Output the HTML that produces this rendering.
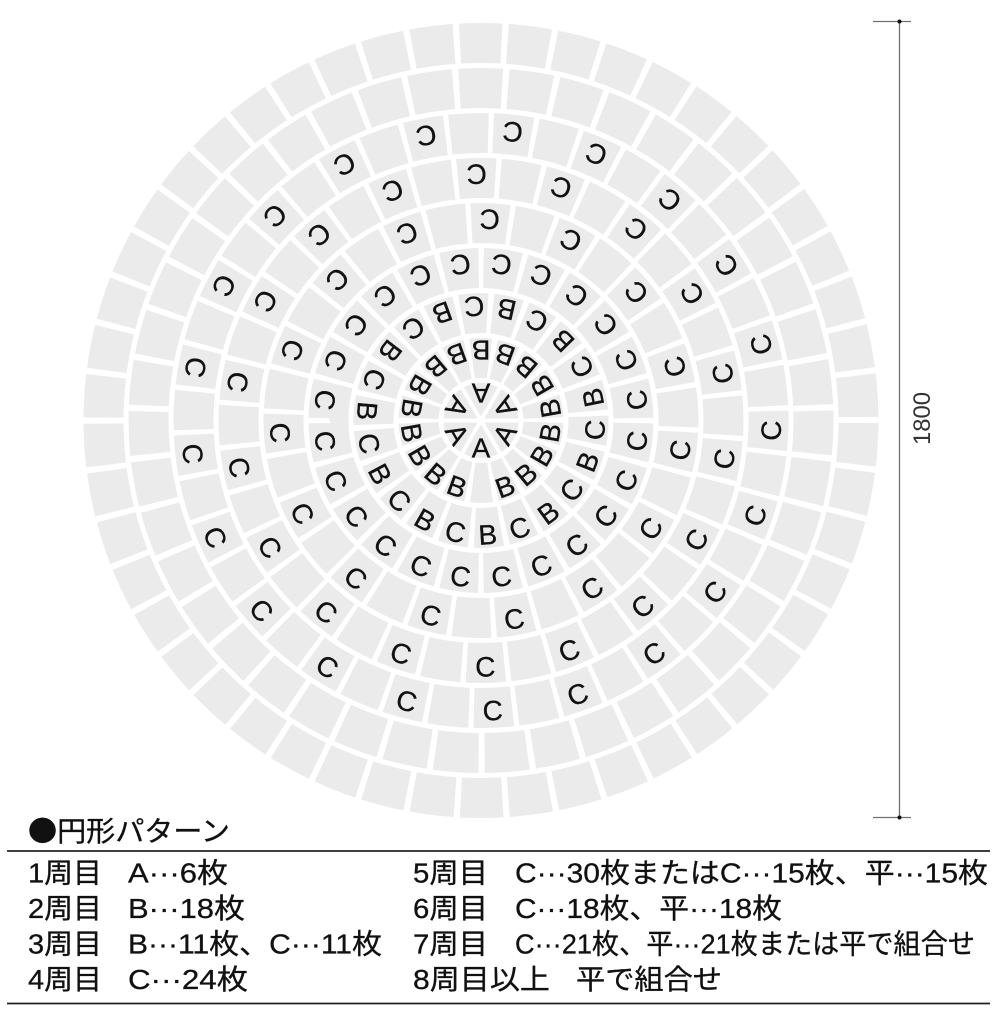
<!DOCTYPE html>
<html><head><meta charset="utf-8"><style>
html,body{margin:0;padding:0;background:#fff;}
svg{display:block;}
</style></head><body>
<svg width="1000" height="1014" viewBox="0 0 1000 1014" xmlns="http://www.w3.org/2000/svg">
<rect width="1000" height="1014" fill="#fff"/>
<!-- tile rings -->
<circle cx="481" cy="420.5" r="37.5" fill="#ebebeb"/>
<g stroke="#fff" stroke-width="4">
<line x1="462.25" y1="452.98" x2="499.75" y2="388.02"/>
<line x1="443.5" y1="420.5" x2="518.5" y2="420.5"/>
<line x1="462.25" y1="388.02" x2="499.75" y2="452.98"/>
</g>
<g fill="none" stroke="#ebebeb" stroke-width="40">
<circle cx="481" cy="420.5" r="62.5" pathLength="1800" stroke-dasharray="79.37 20.63" transform="rotate(102.06 481 420.5)"/>
<circle cx="481" cy="420.5" r="107.5" pathLength="2200" stroke-dasharray="83.71 16.29" transform="rotate(96.11 481 420.5)"/>
<circle cx="481" cy="420.5" r="152.5" pathLength="2400" stroke-dasharray="87.48 12.52" transform="rotate(90.94 481 420.5)"/>
<circle cx="481" cy="420.5" r="197.5" pathLength="3000" stroke-dasharray="87.91 12.09" transform="rotate(99.23 481 420.5)"/>
<circle cx="481" cy="420.5" r="242.5" pathLength="3600" stroke-dasharray="88.19 11.81" transform="rotate(94.59 481 420.5)"/>
<circle cx="481" cy="420.5" r="287.5" pathLength="4200" stroke-dasharray="88.37 11.63" transform="rotate(92.49 481 420.5)"/>
<circle cx="481" cy="420.5" r="332.5" pathLength="4300" stroke-dasharray="87.65 12.35" transform="rotate(90.52 481 420.5)"/>
<circle cx="481" cy="420.5" r="377.5" pathLength="5000" stroke-dasharray="87.35 12.65" transform="rotate(94.06 481 420.5)"/>
</g>
<!-- letters -->
<g transform="translate(481 420.5)" font-family="'Liberation Sans', sans-serif" font-size="28" text-anchor="middle" fill="#111" stroke="#111" stroke-width="0.3">
<text y="37" transform="rotate(0)">A</text>
<text y="37" transform="rotate(60)">A</text>
<text y="37" transform="rotate(120)">A</text>
<text y="37" transform="rotate(180)">A</text>
<text y="37" transform="rotate(240)">A</text>
<text y="37" transform="rotate(300)">A</text>

<text y="80" transform="rotate(20)">B</text>
<text y="80" transform="rotate(40)">B</text>
<text y="80" transform="rotate(60)">B</text>
<text y="80" transform="rotate(80)">B</text>
<text y="80" transform="rotate(100)">B</text>
<text y="80" transform="rotate(120)">B</text>
<text y="80" transform="rotate(140)">B</text>
<text y="80" transform="rotate(160)">B</text>
<text y="80" transform="rotate(180)">B</text>
<text y="80" transform="rotate(200)">B</text>
<text y="80" transform="rotate(220)">B</text>
<text y="80" transform="rotate(240)">B</text>
<text y="80" transform="rotate(260)">B</text>
<text y="80" transform="rotate(280)">B</text>
<text y="80" transform="rotate(300)">B</text>
<text y="80" transform="rotate(320)">B</text>
<text y="80" transform="rotate(340)">B</text>

<text y="124" transform="rotate(-3.4)">B</text>
<text y="124" transform="rotate(-19.76)">C</text>
<text y="124" transform="rotate(-36.13)">B</text>
<text y="124" transform="rotate(-52.49)">C</text>
<text y="124" transform="rotate(-68.85)">B</text>
<text y="124" transform="rotate(-85.22)">C</text>
<text y="124" transform="rotate(-101.58)">B</text>
<text y="124" transform="rotate(-117.95)">C</text>
<text y="124" transform="rotate(-134.31)">B</text>
<text y="124" transform="rotate(-150.67)">C</text>
<text y="124" transform="rotate(-167.04)">B</text>
<text y="124" transform="rotate(-183.4)">C</text>
<text y="124" transform="rotate(-199.76)">B</text>
<text y="124" transform="rotate(-216.13)">C</text>
<text y="124" transform="rotate(-232.49)">B</text>
<text y="124" transform="rotate(-248.85)">C</text>
<text y="124" transform="rotate(-265.22)">B</text>
<text y="124" transform="rotate(-281.58)">C</text>
<text y="124" transform="rotate(-297.95)">B</text>
<text y="124" transform="rotate(-314.31)">C</text>
<text y="124" transform="rotate(-330.67)">B</text>
<text y="124" transform="rotate(-347.04)">C</text>

<text y="167" transform="rotate(7.5)">C</text>
<text y="167" transform="rotate(22.5)">C</text>
<text y="167" transform="rotate(37.5)">C</text>
<text y="167" transform="rotate(52.5)">C</text>
<text y="167" transform="rotate(67.5)">C</text>
<text y="167" transform="rotate(82.5)">C</text>
<text y="167" transform="rotate(97.5)">C</text>
<text y="167" transform="rotate(112.5)">C</text>
<text y="167" transform="rotate(127.5)">C</text>
<text y="167" transform="rotate(142.5)">C</text>
<text y="167" transform="rotate(157.5)">C</text>
<text y="167" transform="rotate(172.5)">C</text>
<text y="167" transform="rotate(187.5)">C</text>
<text y="167" transform="rotate(202.5)">C</text>
<text y="167" transform="rotate(217.5)">C</text>
<text y="167" transform="rotate(232.5)">C</text>
<text y="167" transform="rotate(247.5)">C</text>
<text y="167" transform="rotate(262.5)">C</text>
<text y="167" transform="rotate(277.5)">C</text>
<text y="167" transform="rotate(292.5)">C</text>
<text y="167" transform="rotate(307.5)">C</text>
<text y="167" transform="rotate(322.5)">C</text>
<text y="167" transform="rotate(337.5)">C</text>
<text y="167" transform="rotate(352.5)">C</text>

<text y="211" transform="rotate(14.5)">C</text>
<text y="211" transform="rotate(38.5)">C</text>
<text y="211" transform="rotate(62.5)">C</text>
<text y="211" transform="rotate(86.5)">C</text>
<text y="211" transform="rotate(110.5)">C</text>
<text y="211" transform="rotate(134.5)">C</text>
<text y="211" transform="rotate(158.5)">C</text>
<text y="211" transform="rotate(182.5)">C</text>
<text y="211" transform="rotate(206.5)">C</text>
<text y="211" transform="rotate(230.5)">C</text>
<text y="211" transform="rotate(254.5)">C</text>
<text y="211" transform="rotate(278.5)">C</text>
<text y="211" transform="rotate(302.5)">C</text>
<text y="211" transform="rotate(326.5)">C</text>
<text y="211" transform="rotate(350.5)">C</text>

<text y="256" transform="rotate(-1)">C</text>
<text y="256" transform="rotate(19)">C</text>
<text y="256" transform="rotate(39)">C</text>
<text y="256" transform="rotate(59)">C</text>
<text y="256" transform="rotate(79)">C</text>
<text y="256" transform="rotate(99)">C</text>
<text y="256" transform="rotate(119)">C</text>
<text y="256" transform="rotate(139)">C</text>
<text y="256" transform="rotate(159)">C</text>
<text y="256" transform="rotate(179)">C</text>
<text y="256" transform="rotate(199)">C</text>
<text y="256" transform="rotate(219)">C</text>
<text y="256" transform="rotate(239)">C</text>
<text y="256" transform="rotate(259)">C</text>
<text y="256" transform="rotate(279)">C</text>
<text y="256" transform="rotate(299)">C</text>
<text y="256" transform="rotate(319)">C</text>
<text y="256" transform="rotate(339)">C</text>

<text y="300" transform="rotate(-2.3)">C</text>
<text y="300" transform="rotate(14.84)">C</text>
<text y="300" transform="rotate(31.99)">C</text>
<text y="300" transform="rotate(49.13)">C</text>
<text y="300" transform="rotate(66.27)">C</text>
<text y="300" transform="rotate(83.41)">C</text>
<text y="300" transform="rotate(100.56)">C</text>
<text y="300" transform="rotate(117.7)">C</text>
<text y="300" transform="rotate(134.84)">C</text>
<text y="300" transform="rotate(151.99)">C</text>
<text y="300" transform="rotate(169.13)">C</text>
<text y="300" transform="rotate(186.27)">C</text>
<text y="300" transform="rotate(203.41)">C</text>
<text y="300" transform="rotate(220.56)">C</text>
<text y="300" transform="rotate(237.7)">C</text>
<text y="300" transform="rotate(254.84)">C</text>
<text y="300" transform="rotate(271.99)">C</text>
<text y="300" transform="rotate(289.13)">C</text>
<text y="300" transform="rotate(306.27)">C</text>
<text y="300" transform="rotate(323.41)">C</text>
<text y="300" transform="rotate(340.56)">C</text>
</g>

<!-- dimension line -->
<g stroke="#707070" stroke-width="1.3">
<line x1="899.5" y1="21.5" x2="899.5" y2="817.5"/>
<line x1="873" y1="21.5" x2="911" y2="21.5"/>
<line x1="873" y1="817.5" x2="911" y2="817.5"/>
</g>
<circle cx="899.5" cy="21.5" r="2" fill="#111"/>
<circle cx="899.5" cy="817.5" r="2" fill="#111"/>
<text transform="translate(930 418.5) rotate(-90)" text-anchor="middle" font-family="'Liberation Sans', sans-serif" font-size="24" fill="#333" textLength="53" lengthAdjust="spacingAndGlyphs">1800</text>

<!-- legend -->
<text x="28" y="841" font-family="'Noto Sans CJK JP', sans-serif" font-size="28" fill="#111" stroke="#111" stroke-width="0.3" textLength="202" lengthAdjust="spacingAndGlyphs">●円形パターン</text>
<line x1="7" y1="851" x2="990" y2="851" stroke="#222" stroke-width="1.7"/>
<line x1="7" y1="1003.5" x2="990" y2="1003.5" stroke="#222" stroke-width="1.7"/>
<g font-family="'Liberation Sans', 'Noto Sans CJK JP', sans-serif" font-size="28" fill="#111" stroke="#111" stroke-width="0.3">
<text x="28" y="882.5" textLength="74" lengthAdjust="spacingAndGlyphs">1周目</text>
<text x="128" y="882.5" textLength="100" lengthAdjust="spacingAndGlyphs">A···6枚</text>
<text x="413" y="882.5" textLength="75" lengthAdjust="spacingAndGlyphs">5周目</text>
<text x="515" y="882.5" textLength="473" lengthAdjust="spacingAndGlyphs">C···30枚またはC···15枚、平···15枚</text>

<text x="28" y="918" textLength="74" lengthAdjust="spacingAndGlyphs">2周目</text>
<text x="128" y="918" textLength="117" lengthAdjust="spacingAndGlyphs">B···18枚</text>
<text x="413" y="918" textLength="75" lengthAdjust="spacingAndGlyphs">6周目</text>
<text x="515" y="918" textLength="267" lengthAdjust="spacingAndGlyphs">C···18枚、平···18枚</text>

<text x="28" y="953.5" textLength="74" lengthAdjust="spacingAndGlyphs">3周目</text>
<text x="128" y="953.5" textLength="254" lengthAdjust="spacingAndGlyphs">B···11枚、C···11枚</text>
<text x="413" y="953.5" textLength="75" lengthAdjust="spacingAndGlyphs">7周目</text>
<text x="515" y="953.5" textLength="460" lengthAdjust="spacingAndGlyphs">C···21枚、平···21枚または平で組合せ</text>

<text x="28" y="989" textLength="74" lengthAdjust="spacingAndGlyphs">4周目</text>
<text x="128" y="989" textLength="120" lengthAdjust="spacingAndGlyphs">C···24枚</text>
<text x="413" y="989" textLength="137" lengthAdjust="spacingAndGlyphs">8周目以上</text>
<text x="576" y="989" textLength="146" lengthAdjust="spacingAndGlyphs">平で組合せ</text>
</g>
</svg>
</body></html>
